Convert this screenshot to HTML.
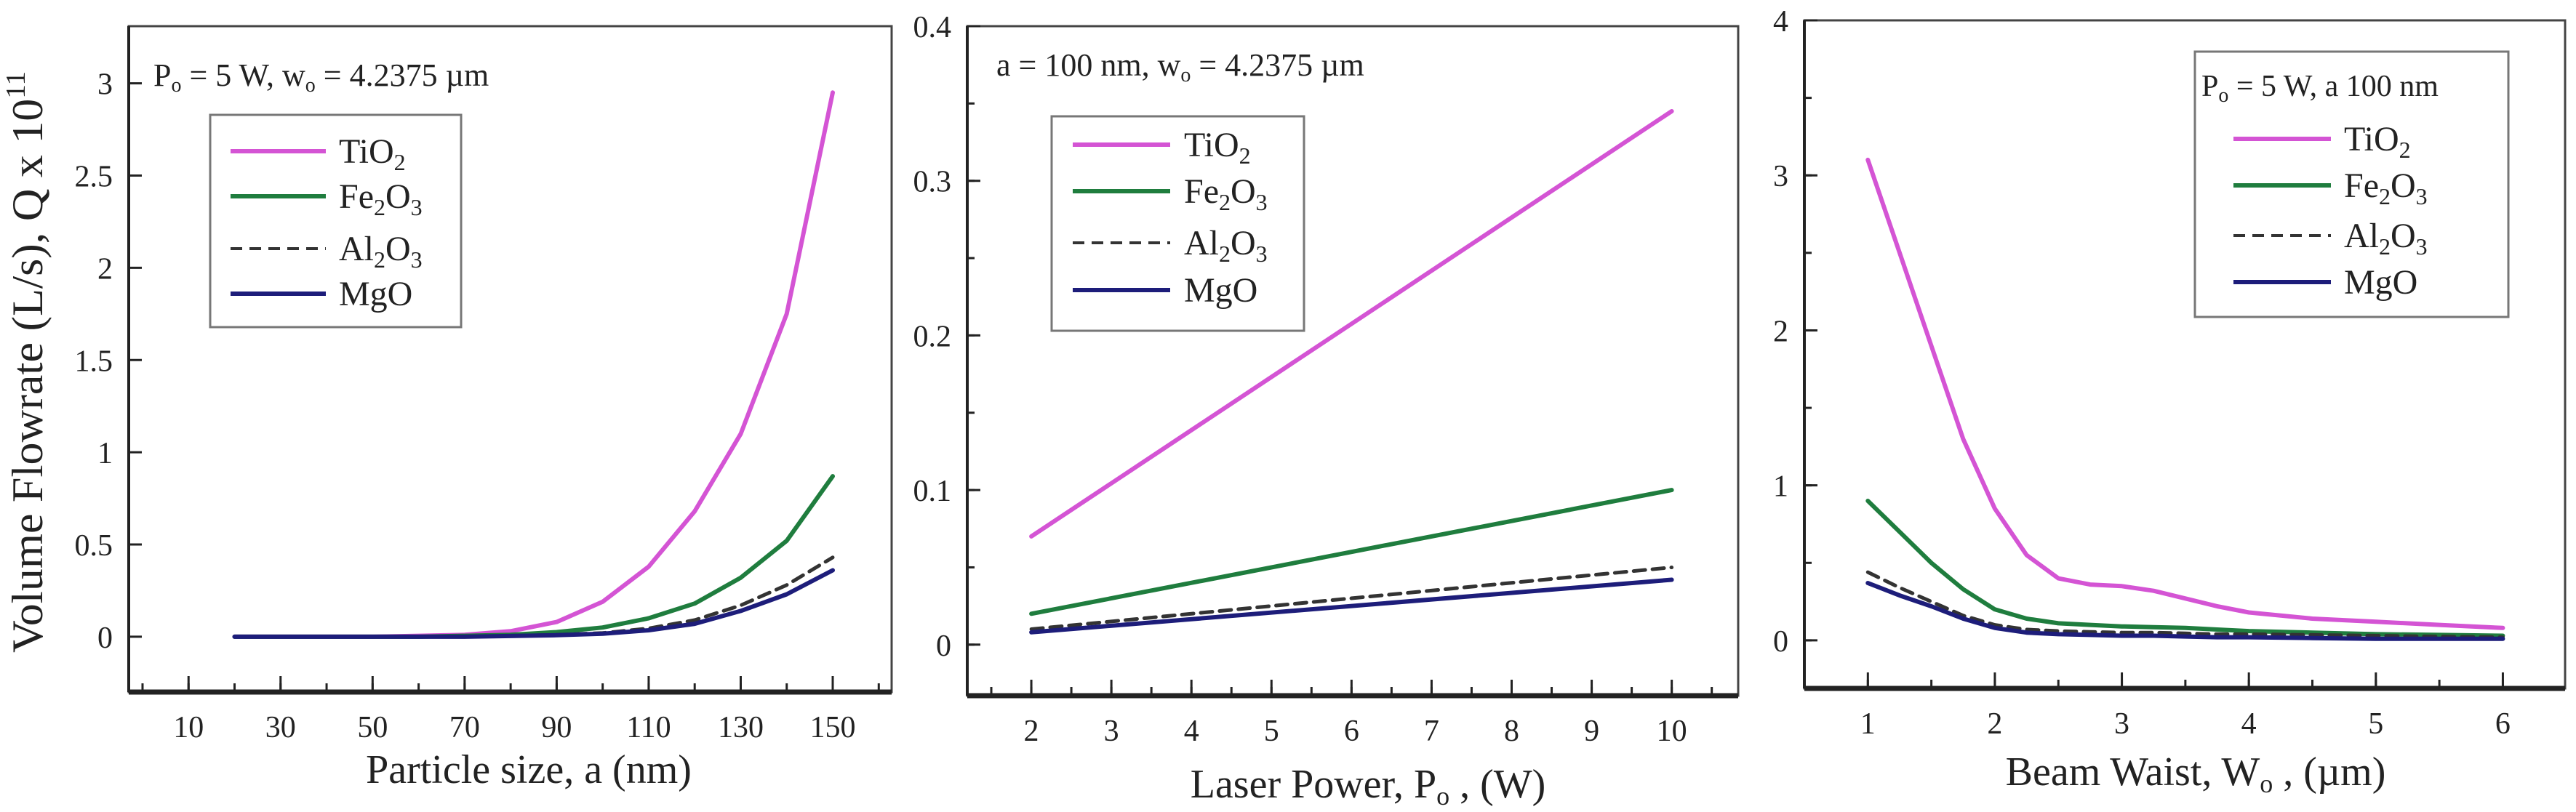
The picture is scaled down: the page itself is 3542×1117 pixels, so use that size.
<!DOCTYPE html>
<html><head><meta charset="utf-8"><title>Volume flowrate charts</title>
<style>
html,body{margin:0;padding:0;background:#fff;}
svg, svg text, svg tspan{font-family:"Liberation Serif","DejaVu Serif",serif;}
svg{display:block;}
</style></head>
<body>
<svg id="chart" width="3542" height="1117" viewBox="0 0 3542 1117" xmlns="http://www.w3.org/2000/svg" font-family="Liberation Serif, DejaVu Serif, serif">
<rect x="0" y="0" width="3542" height="1117" fill="#fff"/>
<g id="g1"></g>
<g id="g2"></g>
<g id="g3"></g>

<text transform="translate(58,498) rotate(-90)" text-anchor="middle" font-size="60" fill="#222" textLength="800" lengthAdjust="spacingAndGlyphs">Volume Flowrate (L/s), Q x 10<tspan font-size="38" dy="-24">11</tspan></text>

<text x="727" y="1077" text-anchor="middle" font-size="56" fill="#222">Particle size, a (nm)</text>
<text x="1881" y="1097" text-anchor="middle" font-size="56" fill="#222">Laser Power, P<tspan font-size="36" dy="10">o</tspan><tspan dy="-10"> ,  (W)</tspan></text>
<text x="3019" y="1080" text-anchor="middle" font-size="56" fill="#222">Beam Waist, W<tspan font-size="36" dy="10">o</tspan><tspan dy="-10"> ,  (µm)</tspan></text>

<text x="211" y="118" font-size="44" fill="#222">P<tspan font-size="28" dy="8">o</tspan><tspan dy="-8"> = 5 W, w</tspan><tspan font-size="28" dy="8">o</tspan><tspan dy="-8"> = 4.2375 µm</tspan></text>
<text x="1370" y="104" font-size="44" fill="#222">a = 100 nm, w<tspan font-size="28" dy="8">o</tspan><tspan dy="-8"> = 4.2375 µm</tspan></text>

<g>
<rect x="289" y="158" width="345" height="292" fill="#fff" stroke="#777" stroke-width="3"/>
<line x1="317" y1="208" x2="448" y2="208" stroke="#d454d4" stroke-width="6"/>
<line x1="317" y1="270" x2="448" y2="270" stroke="#1f7d3e" stroke-width="6"/>
<line x1="317" y1="342" x2="448" y2="342" stroke="#333" stroke-width="4" stroke-dasharray="16,10"/>
<line x1="317" y1="404" x2="448" y2="404" stroke="#1d1d7a" stroke-width="6"/>
<text x="466" y="224" font-size="48" fill="#222">TiO<tspan font-size="32" dy="10">2</tspan></text>
<text x="466" y="286" font-size="48" fill="#222">Fe<tspan font-size="32" dy="10">2</tspan><tspan dy="-10">O</tspan><tspan font-size="32" dy="10">3</tspan></text>
<text x="466" y="358" font-size="48" fill="#222">Al<tspan font-size="32" dy="10">2</tspan><tspan dy="-10">O</tspan><tspan font-size="32" dy="10">3</tspan></text>
<text x="466" y="420" font-size="48" fill="#222">MgO</text>
</g>
<g>
<rect x="1446" y="160" width="347" height="295" fill="#fff" stroke="#777" stroke-width="3"/>
<line x1="1475" y1="199" x2="1609" y2="199" stroke="#d454d4" stroke-width="6"/>
<line x1="1475" y1="263" x2="1609" y2="263" stroke="#1f7d3e" stroke-width="6"/>
<line x1="1475" y1="334" x2="1609" y2="334" stroke="#333" stroke-width="4" stroke-dasharray="16,10"/>
<line x1="1475" y1="399" x2="1609" y2="399" stroke="#1d1d7a" stroke-width="6"/>
<text x="1628" y="215" font-size="48" fill="#222">TiO<tspan font-size="32" dy="10">2</tspan></text>
<text x="1628" y="279" font-size="48" fill="#222">Fe<tspan font-size="32" dy="10">2</tspan><tspan dy="-10">O</tspan><tspan font-size="32" dy="10">3</tspan></text>
<text x="1628" y="350" font-size="48" fill="#222">Al<tspan font-size="32" dy="10">2</tspan><tspan dy="-10">O</tspan><tspan font-size="32" dy="10">3</tspan></text>
<text x="1628" y="415" font-size="48" fill="#222">MgO</text>
</g>
<g>
<rect x="3018" y="71" width="431" height="365" fill="#fff" stroke="#777" stroke-width="3"/>
<text x="3027" y="132" font-size="42" fill="#222">P<tspan font-size="28" dy="8">o</tspan><tspan dy="-8"> = 5 W, a  100 nm</tspan></text>
<line x1="3071" y1="191" x2="3205" y2="191" stroke="#d454d4" stroke-width="6"/>
<line x1="3071" y1="255" x2="3205" y2="255" stroke="#1f7d3e" stroke-width="6"/>
<line x1="3071" y1="324" x2="3205" y2="324" stroke="#333" stroke-width="4" stroke-dasharray="16,10"/>
<line x1="3071" y1="388" x2="3205" y2="388" stroke="#1d1d7a" stroke-width="6"/>
<text x="3223" y="207" font-size="48" fill="#222">TiO<tspan font-size="32" dy="10">2</tspan></text>
<text x="3223" y="271" font-size="48" fill="#222">Fe<tspan font-size="32" dy="10">2</tspan><tspan dy="-10">O</tspan><tspan font-size="32" dy="10">3</tspan></text>
<text x="3223" y="340" font-size="48" fill="#222">Al<tspan font-size="32" dy="10">2</tspan><tspan dy="-10">O</tspan><tspan font-size="32" dy="10">3</tspan></text>
<text x="3223" y="404" font-size="48" fill="#222">MgO</text>
</g>
</svg>
<script>
// Panel 1: particle size
const p1X = [20, 30, 40, 50, 60, 70, 80, 90, 100, 110, 120, 130, 140, 150];
const p1TiO2 = [0, 0, 0, 0, 0.005, 0.01, 0.03, 0.08, 0.19, 0.38, 0.68, 1.1, 1.75, 2.95];
const p1Fe2O3 = [0, 0, 0, 0, 0, 0.005, 0.01, 0.025, 0.05, 0.1, 0.18, 0.32, 0.52, 0.87];
const p1Al2O3 = [0, 0, 0, 0, 0, 0, 0.005, 0.01, 0.02, 0.045, 0.09, 0.17, 0.28, 0.43];
const p1MgO = [0, 0, 0, 0, 0, 0, 0.004, 0.008, 0.016, 0.035, 0.07, 0.14, 0.23, 0.36];
const p1XTicks = [10, 30, 50, 70, 90, 110, 130, 150];
const p1YTicks = [0, 0.5, 1, 1.5, 2, 2.5, 3];
const p1YLabels = ["0", "0.5", "1", "1.5", "2", "2.5", "3"];
// Panel 2: laser power
const p2X = [2, 10];
const p2TiO2 = [0.07, 0.345];
const p2Fe2O3 = [0.02, 0.10];
const p2Al2O3 = [0.01, 0.05];
const p2MgO = [0.008, 0.042];
const p2XTicks = [2, 3, 4, 5, 6, 7, 8, 9, 10];
const p2YTicks = [0, 0.1, 0.2, 0.3, 0.4];
const p2YLabels = ["0", "0.1", "0.2", "0.3", "0.4"];
// Panel 3: beam waist
const p3X = [1, 1.25, 1.5, 1.75, 2, 2.25, 2.5, 2.75, 3, 3.25, 3.5, 3.75, 4, 4.5, 5, 5.5, 6];
const p3TiO2 = [3.1, 2.5, 1.9, 1.3, 0.85, 0.55, 0.4, 0.36, 0.35, 0.32, 0.27, 0.22, 0.18, 0.14, 0.12, 0.1, 0.08];
const p3Fe2O3 = [0.9, 0.7, 0.5, 0.33, 0.2, 0.14, 0.11, 0.1, 0.09, 0.085, 0.08, 0.07, 0.06, 0.05, 0.04, 0.035, 0.03];
const p3Al2O3 = [0.44, 0.34, 0.25, 0.16, 0.1, 0.07, 0.06, 0.055, 0.05, 0.05, 0.045, 0.04, 0.04, 0.035, 0.03, 0.025, 0.02];
const p3MgO = [0.37, 0.29, 0.22, 0.14, 0.08, 0.05, 0.04, 0.035, 0.03, 0.03, 0.025, 0.02, 0.02, 0.015, 0.01, 0.01, 0.01];
const p3XTicks = [1, 2, 3, 4, 5, 6];
const p3YTicks = [0, 1, 2, 3, 4];
const p3YLabels = ["0", "1", "2", "3", "4"];

const NS = "http://www.w3.org/2000/svg";
const COLORS = {TiO2: "#d454d4", Fe2O3: "#1f7d3e", Al2O3: "#333333", MgO: "#1d1d7a"};

function mk(tag, attrs, parent) {
  const e = document.createElementNS(NS, tag);
  for (const k in attrs) e.setAttribute(k, attrs[k]);
  parent.appendChild(e);
  return e;
}

function drawPanel(g, box, xDom, yDom, xs, series, xTicks, xMinorStep, yTicks, yLabels, yMinorStep, showMinorY) {
  const sx = v => box.l + (v - xDom[0]) / (xDom[1] - xDom[0]) * (box.r - box.l);
  const sy = v => box.b - (v - yDom[0]) / (yDom[1] - yDom[0]) * (box.b - box.t);
  const frame = mk("rect", {x: box.l, y: box.t, width: box.r - box.l, height: box.b - box.t, fill: "none", stroke: "#444", "stroke-width": 3}, g);
  
  
  const xa = mk("line", {x1: box.l, y1: box.b, x2: box.r, y2: box.b, stroke: "#222", "stroke-width": 7}, g);
  
  
  const ya = mk("line", {x1: box.l, y1: box.t, x2: box.l, y2: box.b, stroke: "#222", "stroke-width": 4}, g);
  
  
  for (let v = Math.ceil(xDom[0] / xMinorStep) * xMinorStep; v <= xDom[1]; v += xMinorStep) {
    const t = mk("line", {x1: sx(v), y1: box.b, x2: sx(v), y2: box.b - 12, stroke: "#222", "stroke-width": 3}, g);
    
    
  }
  xTicks.forEach(v => {
    const t = mk("line", {x1: sx(v), y1: box.b, x2: sx(v), y2: box.b - 22, stroke: "#222", "stroke-width": 3}, g);
    
    
    const l = mk("text", {x: sx(v), y: box.b + 62, "text-anchor": "middle", "font-size": 42, fill: "#222"}, g);
    l.textContent = String(v);
    
    
  });
  if (showMinorY) {
    for (let v = Math.ceil(yDom[0] / yMinorStep) * yMinorStep; v <= yDom[1]; v += yMinorStep) {
      const t = mk("line", {x1: box.l, y1: sy(v), x2: box.l + 10, y2: sy(v), stroke: "#222", "stroke-width": 3}, g);
      
      
    }
  }
  yTicks.forEach((v, i) => {
    const t = mk("line", {x1: box.l, y1: sy(v), x2: box.l + 18, y2: sy(v), stroke: "#222", "stroke-width": 3}, g);
    
    
    const l = mk("text", {x: box.l - 22, y: sy(v) + 15, "text-anchor": "end", "font-size": 42, fill: "#222"}, g);
    l.textContent = yLabels[i];
    
    
  });
  const order = ["TiO2", "Fe2O3", "Al2O3", "MgO"];
  order.forEach(name => {
    const vals = series[name];
    const d = xs.map((x, i) => (i ? "L" : "M") + sx(x).toFixed(1) + " " + sy(vals[i]).toFixed(1)).join(" ");
    const attrs = {d: d, fill: "none", stroke: COLORS[name], "stroke-width": name === "Al2O3" ? 5 : 6, "stroke-linejoin": "round", "stroke-linecap": "round"};
    if (name === "Al2O3") attrs["stroke-dasharray"] = "16,10";
    const p = mk("path", attrs, g);
    
    
  });
}

drawPanel(document.getElementById("g1"), {l: 177, r: 1226, t: 36, b: 952}, [-3, 162.8], [-0.30, 3.31],
  p1X, {TiO2: p1TiO2, Fe2O3: p1Fe2O3, Al2O3: p1Al2O3, MgO: p1MgO}, p1XTicks, 10, p1YTicks, p1YLabels, 0.25, false);
drawPanel(document.getElementById("g2"), {l: 1330, r: 2390, t: 36, b: 957}, [1.2, 10.83], [-0.033, 0.4],
  p2X, {TiO2: p2TiO2, Fe2O3: p2Fe2O3, Al2O3: p2Al2O3, MgO: p2MgO}, p2XTicks, 0.5, p2YTicks, p2YLabels, 0.05, true);
drawPanel(document.getElementById("g3"), {l: 2481, r: 3527, t: 28, b: 947}, [0.5, 6.49], [-0.31, 4.0],
  p3X, {TiO2: p3TiO2, Fe2O3: p3Fe2O3, Al2O3: p3Al2O3, MgO: p3MgO}, p3XTicks, 0.5, p3YTicks, p3YLabels, 0.5, true);
</script>
</body></html>
